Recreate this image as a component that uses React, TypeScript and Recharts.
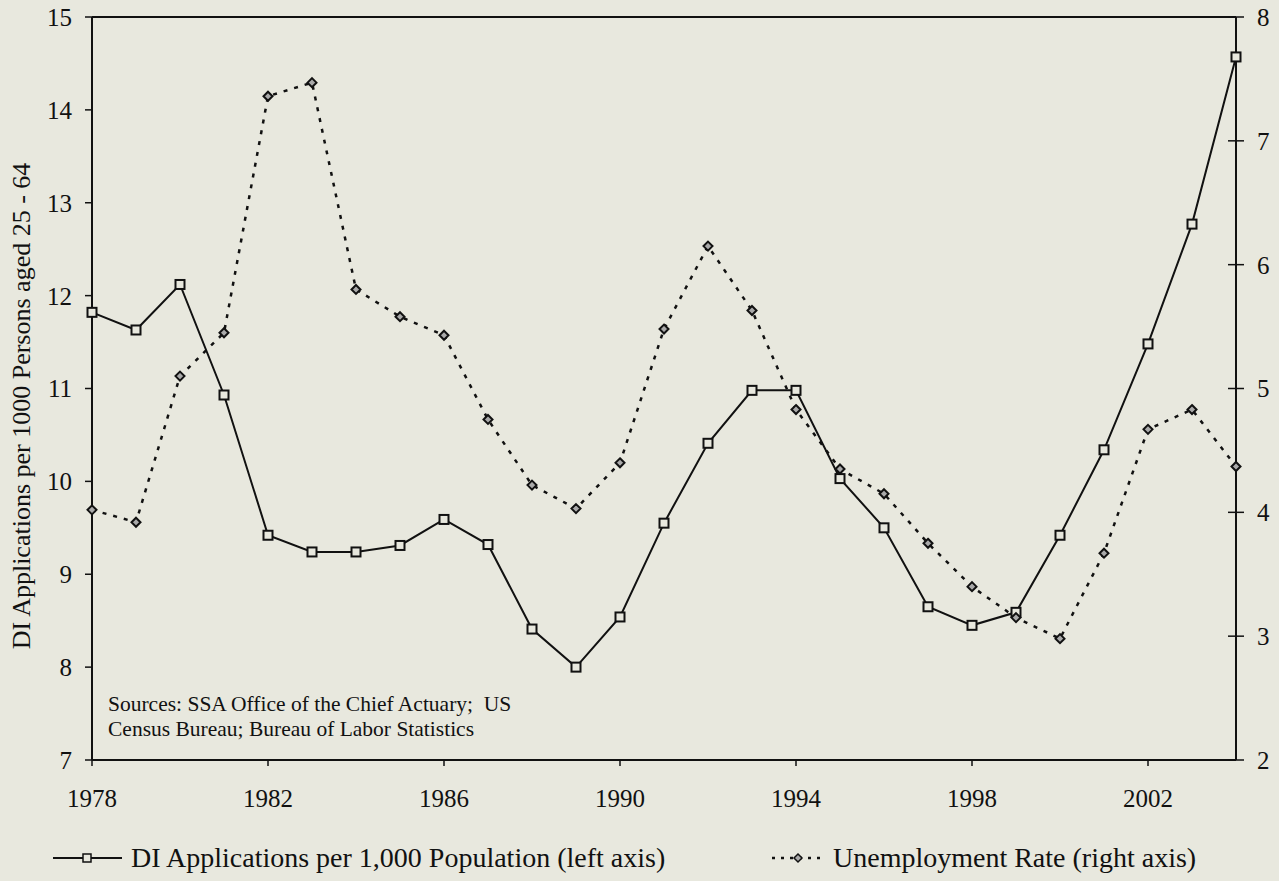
import React from "react";
import { LineChart, Line, XAxis, YAxis, ReferenceLine } from "recharts";

const years = [
  1978, 1979, 1980, 1981, 1982, 1983, 1984, 1985, 1986, 1987, 1988, 1989, 1990,
  1991, 1992, 1993, 1994, 1995, 1996, 1997, 1998, 1999, 2000, 2001, 2002, 2003, 2004,
];

// DI applications per 1000 persons aged 25-64 (left axis)
const diApplications = [
  11.82, 11.63, 12.12, 10.93, 9.42, 9.24, 9.24, 9.31, 9.59, 9.32, 8.41, 8.0, 8.54,
  9.55, 10.41, 10.98, 10.98, 10.03, 9.5, 8.65, 8.45, 8.59, 9.42, 10.34, 11.48, 12.77, 14.57,
];

// unemployment rate (right axis)
const unemployment = [
  4.02, 3.92, 5.1, 5.45, 7.36, 7.47, 5.8, 5.58, 5.43, 4.75, 4.22, 4.03, 4.4,
  5.48, 6.15, 5.63, 4.83, 4.35, 4.15, 3.75, 3.4, 3.15, 2.98, 3.67, 4.67, 4.83, 4.37,
];

const yearTicks = [1978, 1982, 1986, 1990, 1994, 1998, 2002];
const leftTicks = [7, 8, 9, 10, 11, 12, 13, 14, 15];
const rightTicks = [2, 3, 4, 5, 6, 7, 8];

const data = years.map((year, i) => ({
  year,
  di: diApplications[i],
  unemp: unemployment[i],
}));

const BG = "#e8e8de";
const INK = "#111";
const FONT = "Liberation Serif, serif";

function SquareDot({ cx, cy }: { cx?: number; cy?: number }) {
  if (cx == null || cy == null) return null;
  return <rect x={cx - 4.5} y={cy - 4.5} width={9} height={9} fill={BG} stroke={INK} strokeWidth={2} />;
}

function DiamondDot({ cx, cy }: { cx?: number; cy?: number }) {
  if (cx == null || cy == null) return null;
  return (
    <path
      d={`M${cx},${cy - 4.5} L${cx + 4.5},${cy} L${cx},${cy + 4.5} L${cx - 4.5},${cy} Z`}
      fill="#aaa"
      stroke={INK}
      strokeWidth={2}
    />
  );
}

// right axis ticks cross the axis line
function RightTick(props: any) {
  const { x, y, payload } = props;
  const ax = x - 8 - 13;
  return (
    <g>
      <line x1={ax - 8} x2={ax + 8} y1={y} y2={y} stroke={INK} strokeWidth={1.5} />
      <text x={x} y={y} dy="0.355em" textAnchor="start" fontSize={25} fill={INK} fontFamily={FONT}>
        {payload.value}
      </text>
    </g>
  );
}

export default function App() {
  return (
    <div style={{ position: "fixed", left: 0, top: 0, width: 1279, height: 881, background: BG, overflow: "hidden" }}>
      <LineChart width={1279} height={881} data={data} margin={{ top: 17, right: 3, bottom: 71, left: 32 }}>
        <XAxis
          dataKey="year"
          type="number"
          domain={[1978, 2004]}
          ticks={yearTicks}
          height={50}
          axisLine={{ stroke: INK, strokeWidth: 2 }}
          tickLine={{ stroke: INK, strokeWidth: 1.5 }}
          tickSize={6}
          tickMargin={23}
          tick={{ fontSize: 25, fill: INK, fontFamily: FONT }}
        />
        <YAxis
          yAxisId="left"
          domain={[7, 15]}
          ticks={leftTicks}
          width={60}
          axisLine={{ stroke: INK, strokeWidth: 2 }}
          tickLine={{ stroke: INK, strokeWidth: 1.5 }}
          tickSize={7}
          tickMargin={13}
          tick={{ fontSize: 25, fill: INK, fontFamily: FONT }}
        />
        <YAxis
          yAxisId="right"
          orientation="right"
          domain={[2, 8]}
          ticks={rightTicks}
          width={40}
          axisLine={{ stroke: INK, strokeWidth: 2 }}
          tickLine={false}
          tickSize={8}
          tickMargin={13}
          tick={<RightTick />}
        />
        <ReferenceLine yAxisId="left" y={15} stroke={INK} strokeWidth={2} />
        <Line
          yAxisId="left"
          dataKey="di"
          type="linear"
          stroke={INK}
          strokeWidth={2}
          dot={<SquareDot />}
          isAnimationActive={false}
        />
        <Line
          yAxisId="right"
          dataKey="unemp"
          type="linear"
          stroke={INK}
          strokeWidth={2.5}
          strokeDasharray="4 7"
          dot={<DiamondDot />}
          isAnimationActive={false}
        />
      </LineChart>

      <div
        style={{
          position: "absolute",
          left: 22,
          top: 406,
          transform: "translate(-50%, -50%) rotate(-90deg)",
          whiteSpace: "nowrap",
          fontFamily: FONT,
          fontSize: 26,
          color: INK,
        }}
      >
        DI Applications per 1000 Persons aged 25 - 64
      </div>

      <div
        style={{
          position: "absolute",
          left: 108,
          top: 692,
          fontFamily: FONT,
          fontSize: 21.5,
          lineHeight: "25px",
          color: INK,
          whiteSpace: "pre",
        }}
      >
        {"Sources: SSA Office of the Chief Actuary;  US\nCensus Bureau; Bureau of Labor Statistics"}
      </div>

      <svg style={{ position: "absolute", left: 0, top: 820 }} width={1279} height={61}>
        <line x1={53} x2={122} y1={38} y2={38} stroke={INK} strokeWidth={2} />
        <rect x={83} y={34} width={8} height={8} fill={BG} stroke={INK} strokeWidth={1.5} />
        <text x={131} y={47} fontSize={28} fill={INK} fontFamily={FONT}>
          DI Applications per 1,000 Population (left axis)
        </text>
        <line x1={772} x2={824} y1={38} y2={38} stroke={INK} strokeWidth={2.5} strokeDasharray="3 6" />
        <path d="M798,34 L802,38 L798,42 L794,38 Z" fill="#aaa" stroke={INK} strokeWidth={1.5} />
        <text x={833} y={47} fontSize={28} fill={INK} fontFamily={FONT}>
          Unemployment Rate (right axis)
        </text>
      </svg>
    </div>
  );
}
